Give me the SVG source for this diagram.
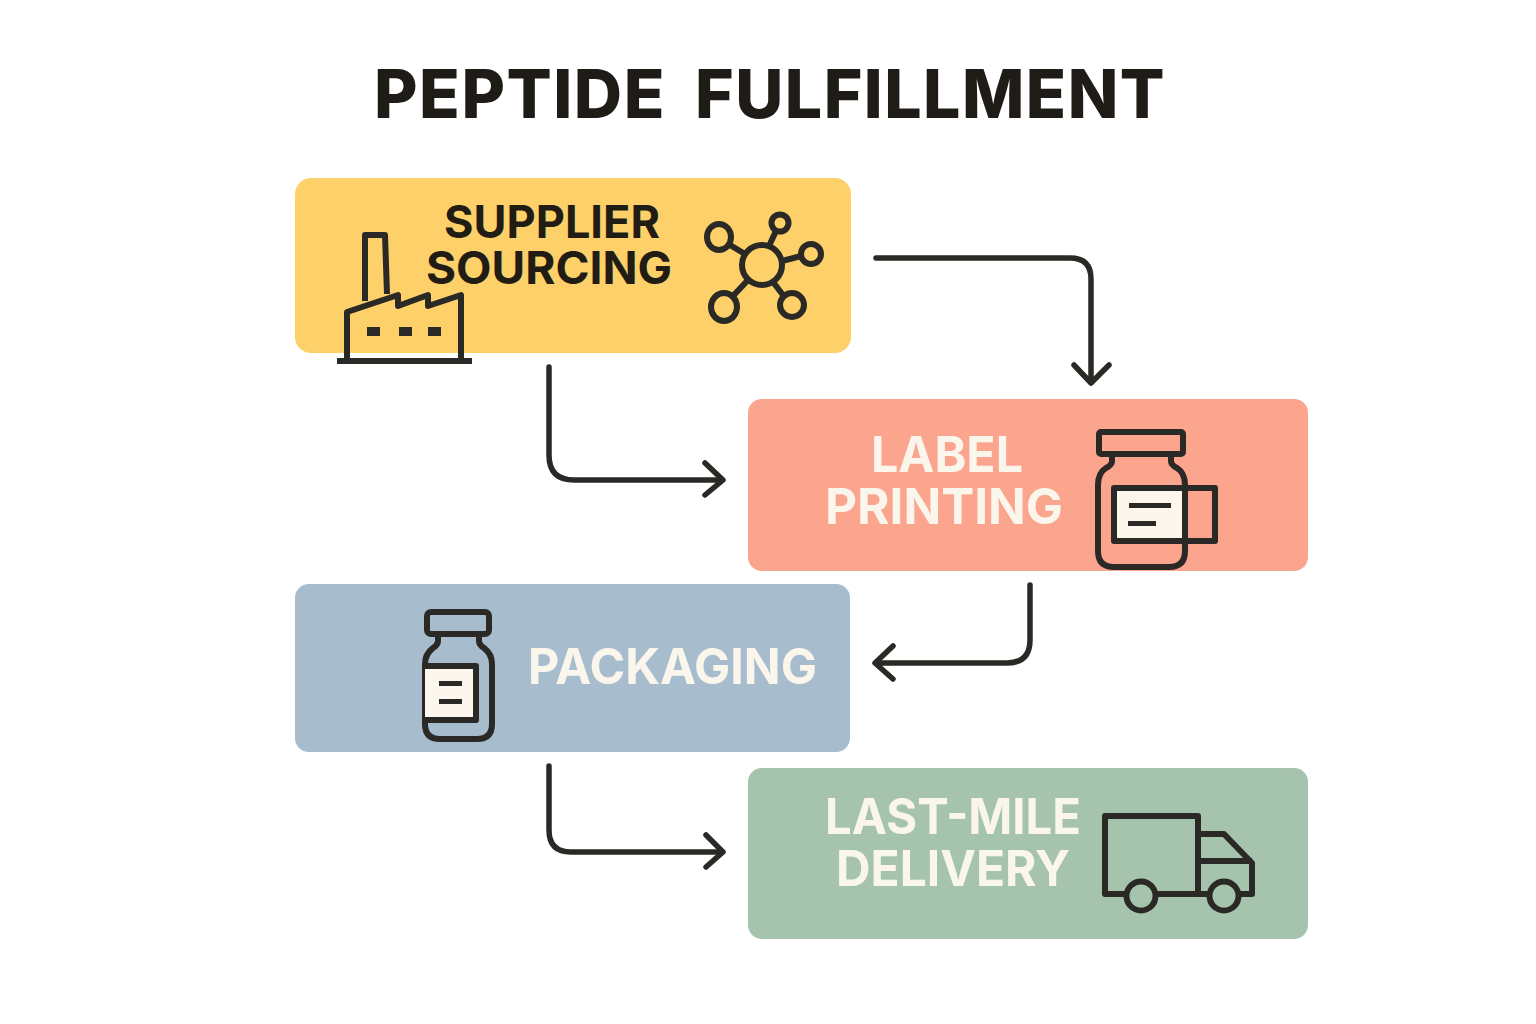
<svg xmlns="http://www.w3.org/2000/svg" width="1536" height="1024" viewBox="0 0 1536 1024">
<style>
text{font-family:Inter,"Liberation Sans",sans-serif;font-weight:700;text-anchor:start}
.title{font-size:67px;font-weight:800;fill:#1f1c17;letter-spacing:1.500px}
.dark{font-size:45px;fill:#211d15;font-weight:750}
.light{font-size:50px;fill:#fbf6ec;font-weight:750}
.ic{fill:none;stroke:#2b2925;stroke-width:6;stroke-linejoin:round}
.lab{fill:#fcf6ec}
.bar{fill:#2b2925;stroke:none}
.conn{fill:none;stroke:#2b2925;stroke-width:5.500;stroke-linecap:round;stroke-linejoin:round}
</style>
<rect width="1536" height="1024" fill="#fff"/>
<text class="title" y="118"><tspan x="374" textLength="292" lengthAdjust="spacingAndGlyphs">PEPTIDE</tspan><tspan x="695" textLength="471" lengthAdjust="spacingAndGlyphs">FULFILLMENT</tspan></text>
<g id="connectors">
<path class="conn" d="M876 258H1070Q1091 258 1091 279V382"/>
<path class="conn" d="M1074 365L1091 383L1109 365"/>
<path class="conn" d="M549 367V455Q549 480 574 480H722"/>
<path class="conn" d="M705 463L723 480L705 495"/>
<path class="conn" d="M1030 585V640Q1030 663 1007 663H876"/>
<path class="conn" d="M893 646L875 663L893 679"/>
<path class="conn" d="M549 766V830Q549 852 571 852H722"/>
<path class="conn" d="M706 835L723 852L706 867"/>
</g>
<g id="supplier-sourcing">
<rect x="295" y="178" width="556" height="175" rx="16" fill="#fdd069"/>
<text class="dark" x="444" y="238" textLength="216" lengthAdjust="spacingAndGlyphs">SUPPLIER</text>
<text class="dark" x="426" y="284" textLength="246" lengthAdjust="spacingAndGlyphs">SOURCING</text>
<path class="ic" d="M365 301L365 235H385L387 294"/>
<path class="ic" d="M347 361V312L398 295V306L428 295V306L461 295V361"/>
<path class="ic" d="M337 361H472"/>
<rect class="bar" x="367" y="327" width="13" height="9"/><rect class="bar" x="399" y="327" width="13" height="9"/><rect class="bar" x="428" y="327" width="13" height="9"/>
<circle class="ic" cx="762" cy="265" r="20"/>
<ellipse class="ic" cx="719" cy="237" rx="12" ry="13"/>
<circle class="ic" cx="780" cy="223" r="8.500"/>
<circle class="ic" cx="811" cy="254" r="10"/>
<ellipse class="ic" cx="724" cy="307" rx="13" ry="14"/>
<circle class="ic" cx="792" cy="305" r="12"/>
<path class="ic" d="M730 245L745 254M776 231L769 246M801 256L782 261M733 296L748 280M783 295L773 282"/>
</g>
<g id="label-printing">
<rect x="748" y="399" width="560" height="172" rx="14" fill="#fba48e"/>
<text class="light" x="871" y="472" textLength="152" lengthAdjust="spacingAndGlyphs">LABEL</text>
<text class="light" x="825" y="524" textLength="238" lengthAdjust="spacingAndGlyphs">PRINTING</text>
<rect x="1114" y="488" width="71" height="53" class="lab"/>
<rect class="ic" x="1099" y="432" width="84" height="22" rx="2"/>
<path class="ic" d="M1112 454V461Q1112 465 1106 468Q1098 473 1098 485V551Q1098 567 1114 567H1169Q1185 567 1185 551V485Q1185 473 1177 468Q1171 465 1171 461V454"/>
<rect class="ic" x="1114" y="488" width="101" height="53"/>
<rect class="bar" x="1129" y="503" width="42" height="5"/><rect class="bar" x="1128" y="521" width="28" height="5"/>
</g>
<g id="packaging">
<rect x="295" y="584" width="555" height="168" rx="14" fill="#a7bdce"/>
<text class="light" x="528" y="684" textLength="289" lengthAdjust="spacingAndGlyphs">PACKAGING</text>
<rect class="ic" x="427" y="612" width="62" height="22" rx="4"/>
<path class="ic" d="M438 634V641Q438 645 433 648Q425 654 425 664V724Q425 739 440 739H477Q492 739 492 724V664Q492 654 484 648Q479 645 479 641V634"/>
<rect x="425" y="666" width="51" height="54" class="lab"/>
<path class="ic" d="M424 666H476V720H424"/>
<rect class="bar" x="439" y="681" width="23" height="5"/><rect class="bar" x="439" y="699" width="23" height="5"/>
</g>
<g id="last-mile-delivery">
<rect x="748" y="768" width="560" height="171" rx="14" fill="#a6c4ad"/>
<text class="light" x="825" y="834" textLength="256" lengthAdjust="spacingAndGlyphs">LAST-MILE</text>
<text class="light" x="836" y="886" textLength="234" lengthAdjust="spacingAndGlyphs">DELIVERY</text>
<path class="ic" d="M1126 894H1105V816H1198V894H1156M1198 834H1224L1252 863V894H1240M1198 861H1252M1198 894H1209"/>
<circle class="ic" cx="1141" cy="896" r="14.500"/>
<circle class="ic" cx="1224" cy="896" r="14.500"/>
</g>
</svg>
